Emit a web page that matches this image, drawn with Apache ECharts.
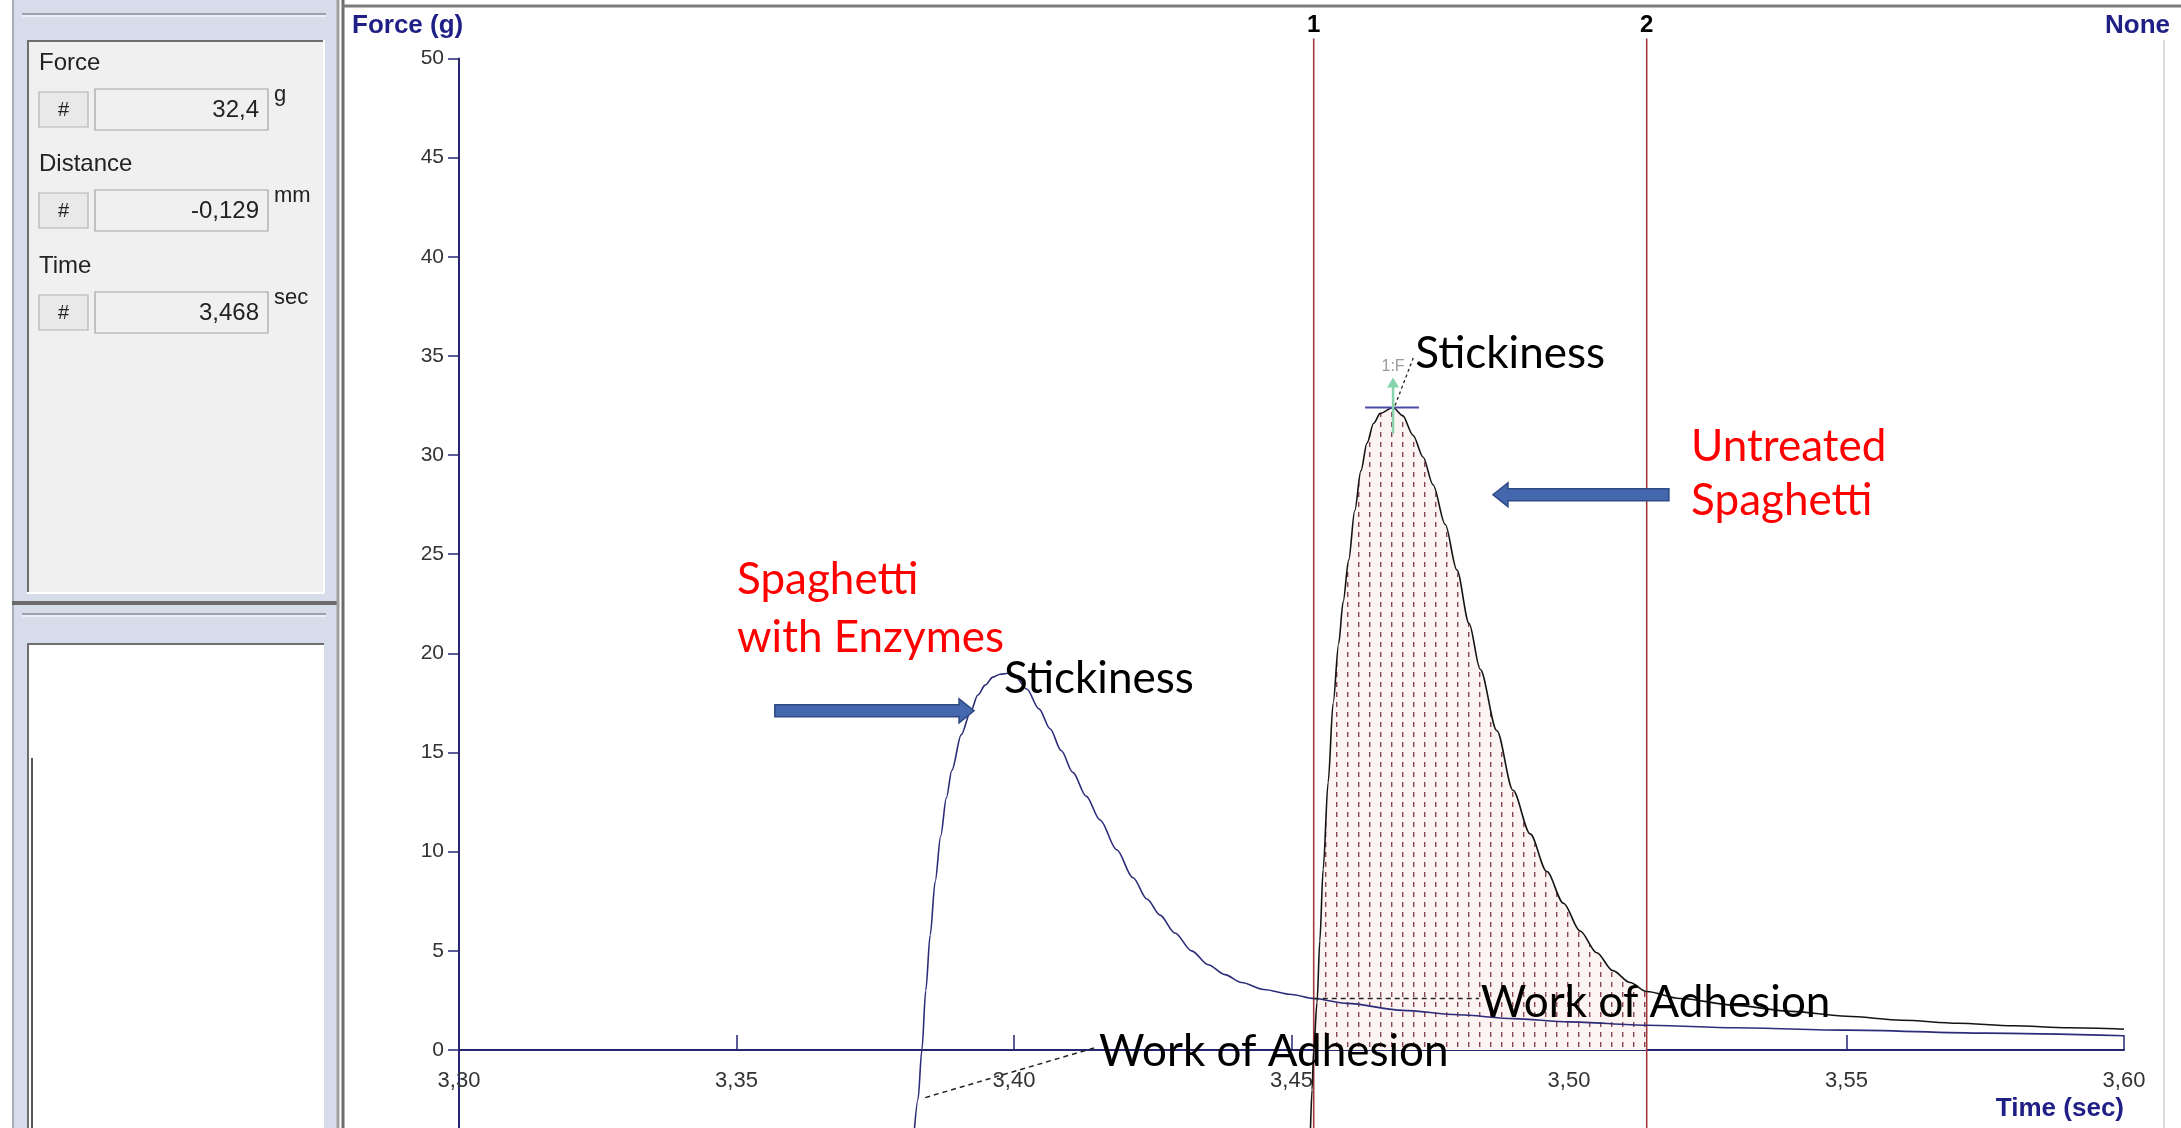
<!DOCTYPE html>
<html><head><meta charset="utf-8">
<script src="https://cdn.jsdelivr.net/npm/echarts@6/dist/echarts.min.js"></script>
<style>html,body{margin:0;padding:0;background:#fff;overflow:hidden}#c{width:2181px;height:1128px;}</style>
</head><body><div id="c"></div>
<script>
// ---------- data ----------
const xRange = [3.30, 3.60];
const xStep = 0.05;
const yRange = [-5, 50];
const yStep = 5;

// Spaghetti with enzymes (time s, force g)
const enzymeCurve = [
  [3.3820,-4.2],[3.3827,-2.5],[3.3834,0.0],[3.3841,3.0],[3.3849,5.8],[3.3858,8.5],
  [3.3868,10.8],[3.3878,12.7],[3.3888,14.1],[3.3905,15.9],[3.3921,17.0],[3.3935,17.9],
  [3.3948,18.4],[3.3962,18.8],[3.3975,18.95],[3.3990,19.0],[3.4002,18.85],[3.4023,18.2],
  [3.4045,17.2],[3.4065,16.2],[3.4085,15.1],[3.4106,14.0],[3.4130,12.8],[3.4155,11.6],
  [3.4185,10.1],[3.4214,8.7],[3.4240,7.6],[3.4263,6.8],[3.4290,5.9],[3.4320,5.0],
  [3.4350,4.3],[3.4380,3.8],[3.4410,3.4],[3.4450,3.05],[3.4500,2.8],[3.4540,2.6],
  [3.4600,2.35],[3.4700,2.0],[3.4800,1.78],[3.4900,1.58],[3.5000,1.42],[3.5140,1.25],
  [3.5300,1.12],[3.5500,1.0],[3.5750,0.85],[3.6000,0.72]
];
// Untreated spaghetti
const untreatedCurve = [
  [3.4534,-4.2],[3.4537,-2.0],[3.4540,0.0],[3.4546,2.4],[3.4551,5.5],[3.4557,9.1],
  [3.4566,13.5],[3.4575,17.5],[3.4585,20.5],[3.4593,22.6],[3.4603,24.7],[3.4614,27.2],
  [3.4625,29.2],[3.4636,30.6],[3.4648,31.6],[3.4660,32.1],[3.4683,32.4],[3.4700,32.0],
  [3.4719,31.0],[3.4737,29.9],[3.4755,28.5],[3.4777,26.5],[3.4798,24.2],[3.4820,21.5],
  [3.4840,19.2],[3.4870,16.1],[3.4899,13.1],[3.4930,10.9],[3.4960,9.0],[3.4990,7.4],
  [3.5020,6.0],[3.5050,4.9],[3.5079,4.0],[3.5110,3.4],[3.5140,2.95],[3.5200,2.6],
  [3.5300,2.25],[3.5400,1.95],[3.5500,1.7],[3.5600,1.5],[3.5700,1.35],[3.5800,1.22],
  [3.5900,1.12],[3.6000,1.05]
];
const cursorTimes = [3.4540, 3.5140];
const cursorNames = ['1', '2'];
const cursorTop = 51;
const peakUntreated = [3.4683, 32.4];
const readoutLabels = ['Force', 'Distance', 'Time'];
const readoutValues = ['32,4', '-0,129', '3,468'];
const readoutUnits = ['g', 'mm', 'sec'];

// annotations (data coordinates)
const annoTexts = [
  {text:'Stickiness', at:[3.4723, 35.1], color:'#000'},
  {text:'Stickiness', at:[3.3982, 18.7], color:'#000'},
  {text:'Work of Adhesion', at:[3.4841, 2.4], color:'#000'},
  {text:'Work of Adhesion', at:[3.4153, -0.1], color:'#000'},
  {text:'Untreated', at:[3.5220, 30.4], color:'#ff0000'},
  {text:'Spaghetti', at:[3.5220, 27.7], color:'#ff0000'},
  {text:'Spaghetti', at:[3.3501, 23.7], color:'#ff0000'},
  {text:'with Enzymes', at:[3.3501, 20.8], color:'#ff0000'}
];
const arrows = [
  {from:[3.3569, 17.1], to:[3.3928, 17.1]},
  {from:[3.5180, 28.0], to:[3.4863, 28.0]}
];
const leaders = [
  {from:[3.3840, -2.4], to:[3.4150, 0.15]},
  {from:[3.4540, 2.6], to:[3.4838, 2.6]}
];

// ---------- hatch pattern ----------
const pc = document.createElement('canvas');
pc.width = 11; pc.height = 10;
const pctx = pc.getContext('2d');
pctx.fillStyle = '#fcf3f3'; pctx.fillRect(0,0,11,10);
pctx.fillStyle = '#8a4452'; pctx.fillRect(5,2,1.4,5);

const areaPts = untreatedCurve.filter(p => p[0] >= cursorTimes[0] && p[0] <= cursorTimes[1]);

const chart = echarts.init(document.getElementById('c'));
const navy = '#262673';
const fmtX = v => v.toFixed(2).replace('.', ',');

const series = [
  {type:'line', data: areaPts, symbol:'none', lineStyle:{width:0}, areaStyle:{color:{image: pc, repeat:'repeat'}, opacity:1}, z:1, silent:true},
  {type:'line', data: enzymeCurve, symbol:'none', smooth:0.3, smoothMonotone:'x', lineStyle:{color:'#2c2c78', width:1.6}, z:4, clip:true},
  {type:'line', data: untreatedCurve, symbol:'none', smooth:0.3, smoothMonotone:'x', lineStyle:{color:'#141414', width:1.6}, z:4, clip:true}
];
cursorTimes.forEach(t => {
  series.push({type:'line', data:[[t, yRange[0]], [t, cursorTop]], symbol:'none', clip:false,
    lineStyle:{color:'#a23a3e', width:1.6}, z:3, silent:true});
});

const gridH = (1050-58.4)/50*(yRange[1]-yRange[0]);
chart.setOption({
  animation:false,
  grid:{left:459, top:58.4, width:1665, height:gridH, outerBoundsMode:'none', containLabel:false},
  xAxis:{type:'value', min:xRange[0], max:xRange[1], interval:xStep, position:'bottom', offset:0,
    axisLine:{onZero:false, lineStyle:{color:navy, width:2}},
    axisTick:{inside:true, length:15, lineStyle:{color:navy, width:1.5}},
    axisLabel:{formatter:fmtX, color:'#333', fontSize:22, margin:20, fontFamily:'Liberation Sans'},
    splitLine:{show:false}},
  yAxis:{type:'value', min:yRange[0], max:yRange[1], interval:yStep,
    axisLine:{show:true, onZero:false, lineStyle:{color:navy, width:2}},
    axisTick:{show:true, length:11, lineStyle:{color:navy, width:1.5}},
    axisLabel:{formatter:v => v < 0 ? '' : String(v), color:'#333', fontSize:21, margin:15, fontFamily:'Liberation Sans'},
    splitLine:{show:false}},
  series
});

// move the time axis up to the zero-force line
const px = p => chart.convertToPixel({xAxisIndex:0, yAxisIndex:0}, p);
const zeroY = px([xRange[0], 0])[1];
const botY = px([xRange[0], yRange[0]])[1];
chart.setOption({xAxis:{offset: -(botY - zeroY)}});

// ---------- graphics ----------
const g = [];
function rect(x,y,w,h,fill,stroke,lw){g.push({type:'rect', shape:{x,y,width:w,height:h}, style:{fill, stroke:stroke||null, lineWidth:lw||1}, silent:true, z:100});}
function line(x1,y1,x2,y2,stroke,lw,dash){g.push({type:'line', shape:{x1,y1,x2,y2}, style:{stroke, lineWidth:lw||1, lineDash:dash||null}, silent:true, z:100});}
function text(t,x,y,font,fill,align,valign){g.push({type:'text', x:0, y:0, style:{text:t, x, y, font, fill, textAlign:align||'left', align:align||'left', textVerticalAlign:valign||'middle', verticalAlign:valign||'middle'}, silent:true, z:110});}

// left panel chrome
rect(12,0,326,1128,'#d6dcea');
line(13,0,13,1128,'#a6acba',2);
line(22,14,326,14,'#9aa1b0',2); line(22,16,326,16,'#ffffff',1);
rect(27,40,297,553,'#f0f0f0');
line(27,41,324,41,'#6e6e6e',2); line(28,40,28,593,'#6e6e6e',2);
line(27,593,324,593,'#ffffff',2); line(324,40,324,593,'#ffffff',2);
const rowLabelY = [63,164,266], rowBoxY = [89,190,292];
readoutLabels.forEach((lab,i) => {
  text(lab, 39, rowLabelY[i], '24px "Liberation Sans"', '#222');
  rect(39, rowBoxY[i]+3, 49, 35, '#e9e9e9', '#b4b4b4', 1.2);
  text('#', 63.5, rowBoxY[i]+21, '20px "Liberation Sans"', '#222', 'center');
  rect(95, rowBoxY[i], 173, 41, '#f0f0f0', '#a4a4a4', 1.2);
  text(readoutValues[i], 259, rowBoxY[i]+21, '24px "Liberation Sans"', '#222', 'right');
  text(readoutUnits[i], 274, rowBoxY[i]+6, '22px "Liberation Sans"', '#222', 'left');
});
line(12,603,338,603,'#6a6a6a',4);
line(22,614,326,614,'#9aa1b0',2); line(22,616,326,616,'#ffffff',1);
rect(27,643,297,485,'#ffffff');
line(27,644,324,644,'#6e6e6e',2); line(28,643,28,1128,'#6e6e6e',2);
line(32,758,32,1128,'#555555',2);
line(338,0,338,1128,'#a0a0a0',3); line(343,0,343,1128,'#6c6c6c',3);
line(343,6,2181,6,'#7c7c7c',3);
line(2164,40,2164,1128,'#dcdcdc',2);

// axis titles
text('Force (g)', 352, 26, 'bold 26px "Liberation Sans"', '#1f1f86');
text('None', 2170, 26, 'bold 26px "Liberation Sans"', '#1f1f86', 'right');
const xEnd = px([xRange[1], 0]);
text('Time (sec)', xEnd[0], 1109, 'bold 26px "Liberation Sans"', '#1f1f86', 'right');

// cursor labels
cursorTimes.forEach((t,i) => {
  const p = px([t, cursorTop]);
  text(cursorNames[i], p[0], 25, 'bold 24px "Liberation Sans"', '#000', 'center');
});

// peak marker (untreated)
const pk = px(peakUntreated);
line(pk[0]-28, pk[1], pk[0]+26, pk[1], '#4b4ba6', 2);
line(pk[0], pk[1]+26, pk[0], pk[1]-24, '#86d3ad', 2.5);
g.push({type:'polygon', shape:{points:[[pk[0]-6,pk[1]-20],[pk[0]+6,pk[1]-20],[pk[0],pk[1]-30]]}, style:{fill:'#86d3ad'}, silent:true, z:101});
text('1:F', pk[0], pk[1]-41, '16px "Liberation Sans"', '#9a9a9a', 'center');
const stick = px(annoTexts[0].at);
line(pk[0]+2, pk[1]-2, stick[0]-2, stick[1]+4, '#222', 1.3, [3,3]);

// leaders
leaders.forEach(l => {
  const a = px(l.from), b = px(l.to);
  line(a[0], a[1], b[0], b[1], '#222', 1.5, [5,4]);
});

// texts
annoTexts.forEach(a => {
  const p = px(a.at);
  text(a.text, p[0], p[1], '44px Lato', a.color, 'left');
});

// arrows
arrows.forEach(a => {
  const p0 = px(a.from), p1 = px(a.to);
  const y = p0[1], d = Math.sign(p1[0]-p0[0]);
  const hx = p1[0] - d*15;
  g.push({type:'polygon', shape:{points:[[p0[0],y-6],[hx,y-6],[hx,y-12],[p1[0],y],[hx,y+12],[hx,y+6],[p0[0],y+6]]},
    style:{fill:'#4567ad', stroke:'#2f4b86', lineWidth:1.5}, silent:true, z:105});
});

chart.setOption({graphic:{elements:g}});
</script></body></html>
